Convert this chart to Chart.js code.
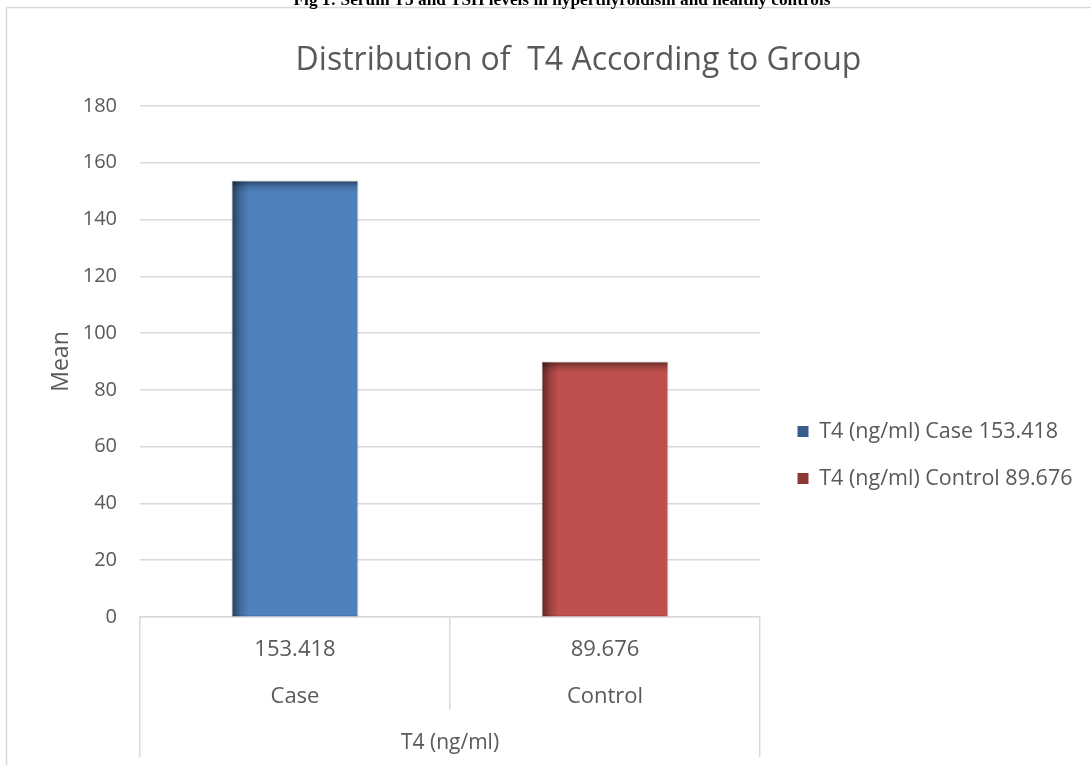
<!DOCTYPE html>
<html>
<head>
<meta charset="utf-8">
<title>Distribution of T4 According to Group</title>
<script src="https://cdn.jsdelivr.net/npm/chart.js@4.4.1/dist/chart.umd.min.js"></script>
<style>
  html, body { margin: 0; padding: 0; background: #ffffff; overflow: hidden; }
  #wrap { position: relative; width: 1091px; height: 765px; overflow: hidden; }
  #chart { position: absolute; left: 0; top: 0; }
  #caption {
    position: absolute; left: 0; top: -9px; width: 1124px;
    text-align: center; white-space: nowrap;
    font: bold 17.3px/17px "Liberation Serif", "Times New Roman", serif; color: #000;
  }
</style>
</head>
<body>
<div id="wrap">
  <canvas id="chart" width="1091" height="765"></canvas>
  <div id="caption">Fig 1: Serum T3 and TSH levels in hyperthyroidism and healthy controls</div>
</div>
<script>
// ---- data ----
const groupLabels = ['T4 (ng/ml)'];
const categories = ['Case', 'Control'];
const meanValues = [153.418, 89.676];
const yTickRange = [0, 180];
const yTickStep = 20;

// ---- styling ----
const TEXT = '#595959';
const GRID = '#D9D9D9';
const FONT = '"Open Sans", "Noto Sans", sans-serif';
const barColors = ['#4F81BD', '#C0504D'];
const legendColors = ['#3A5E8C', '#8E3835'];

const datasets = categories.map((cat, i) => ({
  label: groupLabels[0] + ' ' + cat + ' ' + String(meanValues[i]),
  data: meanValues.map((v, j) => (j === i ? v : null)),
  backgroundColor: barColors[i],
  borderWidth: 0
}));

// page frame + white background
const framePlugin = {
  id: 'frame',
  beforeDraw(chart) {
    const ctx = chart.ctx;
    ctx.save();
    ctx.fillStyle = '#ffffff';
    ctx.fillRect(0, 0, chart.width, chart.height);
    ctx.strokeStyle = GRID;
    ctx.lineWidth = 1.5;
    ctx.beginPath();
    ctx.moveTo(6.5, chart.height);
    ctx.lineTo(6.5, 7.5);
    ctx.lineTo(chart.width, 7.5);
    ctx.stroke();
    ctx.restore();
  }
};

// soft inner shadow along the left and top edges of every bar
const bevelPlugin = {
  id: 'bevel',
  afterDatasetsDraw(chart) {
    const ctx = chart.ctx;
    chart.data.datasets.forEach((ds, di) => {
      const meta = chart.getDatasetMeta(di);
      meta.data.forEach((bar, i) => {
        if (ds.data[i] == null) return;
        const p = bar.getProps(['x', 'y', 'base', 'width'], true);
        const left = p.x - p.width / 2;
        const top = Math.min(p.y, p.base);
        const h = Math.abs(p.base - p.y);
        ctx.save();
        let g = ctx.createLinearGradient(left, 0, left + 16, 0);
        g.addColorStop(0, 'rgba(0,0,0,0.50)');
        g.addColorStop(0.5, 'rgba(0,0,0,0.18)');
        g.addColorStop(1, 'rgba(0,0,0,0)');
        ctx.fillStyle = g;
        ctx.fillRect(left, top, 16, h);
        g = ctx.createLinearGradient(0, top, 0, top + 11);
        g.addColorStop(0, 'rgba(0,0,0,0.42)');
        g.addColorStop(0.5, 'rgba(0,0,0,0.14)');
        g.addColorStop(1, 'rgba(0,0,0,0)');
        ctx.fillStyle = g;
        ctx.fillRect(left, top, p.width, 11);
        ctx.strokeStyle = 'rgba(0,0,0,0.10)';
        ctx.lineWidth = 1;
        ctx.strokeRect(left - 0.5, top - 0.5, p.width + 1, h);
        ctx.restore();
      });
    });
  }
};

// place title and legend blocks the way the workbook lays them out
const LEGEND_WIDTH = 331;
const placePlugin = {
  id: 'place',
  beforeLayout(chart) {
    const lg = chart.legend;
    if (lg && !lg._fixedFit) {
      const fit = lg.fit;
      lg.fit = function () {
        fit.apply(this, arguments);
        this.width = LEGEND_WIDTH;
      };
      lg._fixedFit = true;
    }
  },
  afterLayout(chart) {
    const t = chart.titleBlock;
    if (t) { t.left = 7; t.right = 1150; t.width = t.right - t.left; }
    const lg = chart.legend;
    if (lg) {
      const dx = 12, dy = 73;
      lg.left += dx; lg.right += dx;
      lg.top += dy; lg.bottom += dy;
    }
  }
};

new Chart(document.getElementById('chart'), {
  type: 'bar',
  data: {
    labels: categories.map((c, i) => [String(meanValues[i]), c]),
    datasets
  },
  options: {
    responsive: false,
    animation: false,
    events: [],
    layout: { padding: { left: 7, top: 7, right: 0, bottom: 8 } },
    datasets: {
      bar: { skipNull: true, categoryPercentage: 1.0, barPercentage: 0.403 }
    },
    plugins: {
      title: {
        display: true,
        text: 'Distribution of  T4 According to Group',
        color: TEXT,
        font: { family: FONT, size: 32, weight: 'normal' },
        padding: { top: 35, bottom: 25.6 }
      },
      legend: {
        display: true,
        position: 'right',
        align: 'center',
        labels: {
          color: TEXT,
          font: { family: FONT, size: 21.5 },
          boxWidth: 11,
          boxHeight: 11,
          padding: 25.5,
          generateLabels(chart) {
            return chart.data.datasets.map((ds, i) => ({
              text: ds.label,
              fillStyle: legendColors[i],
              strokeStyle: legendColors[i],
              lineWidth: 0,
              fontColor: TEXT,
              datasetIndex: i,
              hidden: false
            }));
          }
        }
      },
      tooltip: { enabled: false }
    },
    scales: {
      x: {
        type: 'category',
        position: 'bottom',
        weight: 0,
        offset: true,
        grid: { offset: true, drawOnChartArea: false, drawTicks: true, tickLength: 93, color: GRID, lineWidth: 1.5 },
        border: { display: true, color: GRID, width: 1.5 },
        ticks: { color: TEXT, font: { family: FONT, size: 22, lineHeight: '47px' }, padding: -83.5, maxRotation: 0, autoSkip: false },
        afterFit(scale) { scale.height = 93; }
      },
      x2: {
        type: 'category',
        position: 'bottom',
        weight: 1,
        labels: groupLabels,
        offset: true,
        grid: { offset: true, drawOnChartArea: false, drawTicks: true, tickLength: 47, color: GRID, lineWidth: 1.5 },
        border: { display: false },
        ticks: { color: TEXT, font: { family: FONT, size: 21 }, padding: -26.5, maxRotation: 0 },
        afterFit(scale) { scale.height = 47; }
      },
      y: {
        min: yTickRange[0],
        max: yTickRange[1],
        grid: { color: GRID, lineWidth: 1.5, drawTicks: false },
        border: { display: false },
        ticks: { stepSize: yTickStep, color: TEXT, font: { family: FONT, size: 20 }, padding: 23 },
        title: {
          display: true,
          text: 'Mean',
          color: TEXT,
          font: { family: FONT, size: 23 },
          padding: { top: 41, bottom: 0 }
        },
        afterFit(scale) { scale.width = 133; }
      }
    }
  },
  plugins: [framePlugin, bevelPlugin, placePlugin]
});
</script>
</body>
</html>
